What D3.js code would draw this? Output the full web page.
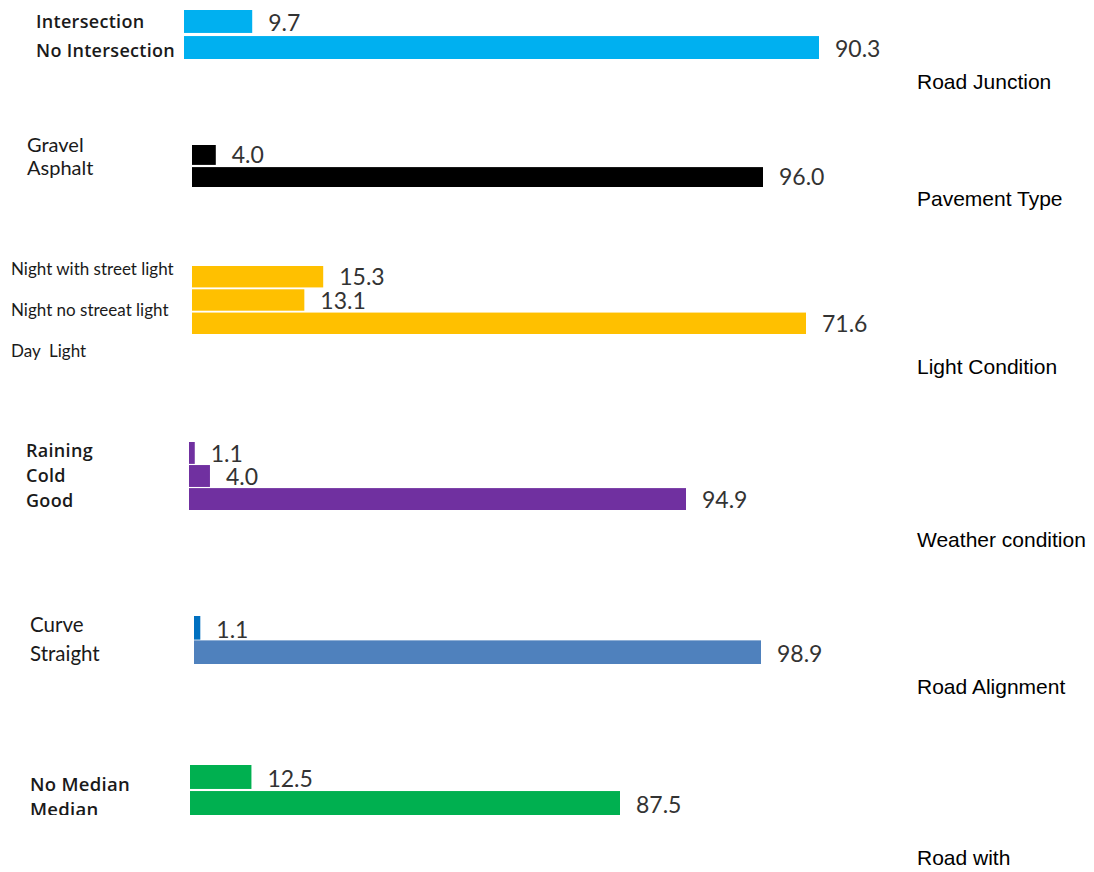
<!DOCTYPE html>
<html>
<head>
<meta charset="utf-8">
<script src="https://cdn.jsdelivr.net/npm/d3@7"></script>
<style>
  html, body { margin: 0; padding: 0; background: #fff; }
  svg { display: block; }
  .cat { font-family: Lato, "Open Sans", sans-serif; fill: #1a1a1a; white-space: pre; }
  .cat.strong { font-family: "Open Sans", Lato, sans-serif; font-weight: 600; letter-spacing: 0.3px; }
  .val { font-family: Lato, "Open Sans", sans-serif; font-size: 23px; fill: #333; }
  .title { font-family: "Liberation Sans", Arial, sans-serif; font-size: 21px; fill: #000; }
</style>
</head>
<body>
<script>
// Share of crashes by road / environment attribute (percent)
const junctionCategories  = ["Intersection", "No Intersection"];
const junctionValues      = [9.7, 90.3];
const pavementCategories  = ["Gravel", "Asphalt"];
const pavementValues      = [4.0, 96.0];
const lightCategories     = ["Night with street light", "Night no streeat light", "Day  Light"];
const lightValues         = [15.3, 13.1, 71.6];
const weatherCategories   = ["Raining", "Cold", "Good"];
const weatherValues       = [1.1, 4.0, 94.9];
const alignmentCategories = ["Curve", "Straight"];
const alignmentValues     = [1.1, 98.9];
const medianCategories    = ["No Median", "Median"];
const medianValues        = [12.5, 87.5];
const panelTitles = ["Road Junction", "Pavement Type", "Light Condition", "Weather condition", "Road Alignment", "Road with"];

const W = 1094, H = 872;
const svg = d3.select("body").append("svg").attr("width", W).attr("height", H);

// Each small chart: its own value scale, bar band, label placement and colours
const panels = [
  { cats: junctionCategories, vals: junctionValues, title: panelTitles[0],
    xRange: [184, 819], yRange: [10, 59], pad: 0.12,
    labelX: 36, labelY: [28.3, 56.7], labelSize: 18, strong: true,
    titleY: 89, colors: ["#00b0f0"] },
  { cats: pavementCategories, vals: pavementValues, title: panelTitles[1],
    xRange: [192, 763], yRange: [145, 187], pad: 0.1,
    labelX: 27, labelY: [152, 175], labelSize: 20, strong: false,
    titleY: 206, colors: ["#000000"] },
  { cats: lightCategories, vals: lightValues, title: panelTitles[2],
    xRange: [192, 806], yRange: [266, 334], pad: 0.08,
    labelX: 11, labelY: [275, 357], labelSize: 17, strong: false,
    titleY: 374, colors: ["#ffc000"] },
  { cats: weatherCategories, vals: weatherValues, title: panelTitles[3],
    xRange: [189, 686], yRange: [442, 510], pad: 0.05,
    labelX: 26, labelY: [457, 507], labelSize: 18, strong: true,
    titleY: 547, colors: ["#7030a0"] },
  { cats: alignmentCategories, vals: alignmentValues, title: panelTitles[4],
    xRange: [194, 761], yRange: [616, 664], pad: 0.03,
    labelX: 30, labelY: [632, 661], labelSize: 20.5, strong: false,
    titleY: 694, colors: ["#0070c0", "#4f81bd"] },
  { cats: medianCategories, vals: medianValues, title: panelTitles[5],
    xRange: [190, 620], yRange: [765, 815], pad: 0.08,
    labelX: 30, labelY: [791, 816], labelSize: 18.5, strong: true,
    titleY: 865, colors: ["#00b050"], clipBottom: 815 }
];

// Clip used by the last chart, whose lower label is cut off at its frame
svg.append("defs").append("clipPath").attr("id", "clip-median")
  .append("rect").attr("x", 0).attr("y", 0).attr("width", W).attr("height", 815);

panels.forEach((p, pi) => {
  const g = svg.append("g");
  const x = d3.scaleLinear().domain([0, d3.max(p.vals)]).range(p.xRange);
  const y = d3.scaleBand().domain(p.cats).range(p.yRange).paddingInner(p.pad).paddingOuter(0);
  const ly = d3.scalePoint().domain(p.cats).range(p.labelY);
  const color = d3.scaleOrdinal().domain(p.cats).range(p.colors);
  const rows = p.cats.map((c, i) => ({ cat: c, val: p.vals[i] }));

  g.selectAll("rect.bar").data(rows).join("rect")
    .attr("class", "bar")
    .attr("x", x(0))
    .attr("y", d => y(d.cat))
    .attr("width", d => x(d.val) - x(0))
    .attr("height", y.bandwidth())
    .attr("fill", d => color(d.cat));

  g.selectAll("text.val").data(rows).join("text")
    .attr("class", "val")
    .attr("x", d => x(d.val) + 16)
    .attr("y", d => y(d.cat) + y.bandwidth() - 2)
    .text(d => d3.format(".1f")(d.val));

  const lg = g.append("g");
  if (p.clipBottom) lg.attr("clip-path", "url(#clip-median)");
  lg.selectAll("text.cat").data(rows).join("text")
    .attr("class", p.strong ? "cat strong" : "cat")
    .attr("x", p.labelX)
    .attr("y", d => ly(d.cat))
    .attr("font-size", p.labelSize)
    .text(d => d.cat);

  g.append("text").attr("class", "title")
    .attr("x", 917).attr("y", p.titleY)
    .text(p.title);
});
</script>
</body>
</html>
